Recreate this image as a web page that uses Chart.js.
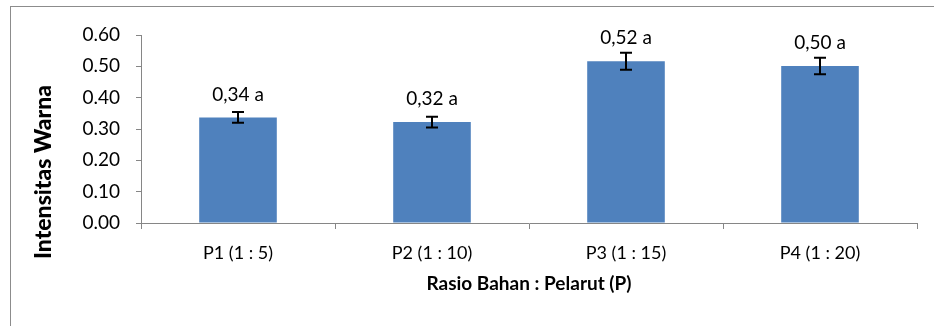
<!DOCTYPE html>
<html>
<head>
<meta charset="utf-8">
<script src="https://cdn.jsdelivr.net/npm/chart.js@4"></script>
<style>
    html, body { margin: 0; padding: 0; background: #fff; }
    #wrap { position: relative; width: 934px; height: 326px; }
    #frame {
        position: absolute; left: 10px; top: 6px; right: -2px; bottom: -2px;
        border-top: 1px solid #8c8c8c; border-left: 1px solid #8c8c8c;
    }
    canvas { position: absolute; left: 0; top: 0; }
</style>
</head>
<body>
<div id="wrap">
    <div id="frame"></div>
    <canvas id="main-chart" width="934" height="326"></canvas>
</div>
<script>
// Chart data
const categories = ["P1 (1 : 5)", "P2 (1 : 10)", "P3 (1 : 15)", "P4 (1 : 20)"];
const values = [0.337, 0.322, 0.516, 0.501];
const errors = [0.017, 0.017, 0.027, 0.026];
const valueLabels = ["0,34 a", "0,32 a", "0,52 a", "0,50 a"];
const yTicks = [0, 0.1, 0.2, 0.3, 0.4, 0.5, 0.6];

const fontFamily = "Lato, 'Open Sans', sans-serif";
const axisColor = "#868686";

// Error bars plus value labels above each bar
const barExtras = {
    id: "barExtras",
    afterDatasetsDraw(chart) {
        const ctx = chart.ctx;
        const meta = chart.getDatasetMeta(0);
        const yScale = chart.scales.y;
        ctx.save();
        ctx.strokeStyle = "#000";
        ctx.lineWidth = 2;
        meta.data.forEach((bar, i) => {
            const x = bar.x;
            const top = yScale.getPixelForValue(values[i] + errors[i]);
            const bottom = yScale.getPixelForValue(values[i] - errors[i]);
            ctx.beginPath();
            ctx.moveTo(x, top);
            ctx.lineTo(x, bottom);
            ctx.moveTo(x - 6, top);
            ctx.lineTo(x + 6, top);
            ctx.moveTo(x - 6, bottom);
            ctx.lineTo(x + 6, bottom);
            ctx.stroke();

            ctx.fillStyle = "#000";
            ctx.font = "19px " + fontFamily;
            ctx.textAlign = "center";
            ctx.textBaseline = "middle";
            ctx.fillText(valueLabels[i], x, bar.y - 23);
        });
        ctx.restore();
    },
};

// Y axis title, centred on the whole chart height like the original
const yTitle = {
    id: "yTitle",
    afterDraw(chart) {
        const ctx = chart.ctx;
        ctx.save();
        ctx.translate(44, 172);
        ctx.rotate(-Math.PI / 2);
        ctx.font = "900 23px " + fontFamily;
        ctx.fillStyle = "#000";
        ctx.textAlign = "center";
        ctx.textBaseline = "middle";
        ctx.fillText("Intensitas Warna", 0, 0);
        ctx.restore();
    },
};

const chartCanvas = document.getElementById("main-chart");

const mainChart = new Chart(chartCanvas, {
    type: "bar",
    data: {
        labels: categories,
        datasets: [
            {
                label: "Intensitas Warna",
                backgroundColor: "#4f81bd",
                borderWidth: 0,
                barPercentage: 0.4,
                categoryPercentage: 1,
                data: values,
            },
        ],
    },
    options: {
        responsive: false,
        animation: false,
        events: [],
        layout: {
            padding: { left: 0, right: 17, top: 35, bottom: 0 },
        },
        plugins: {
            legend: { display: false },
            tooltip: { enabled: false },
        },
        scales: {
            x: {
                grid: {
                    offset: true,
                    drawOnChartArea: false,
                    drawTicks: true,
                    tickLength: 6,
                    tickColor: axisColor,
                },
                border: { color: axisColor, width: 1 },
                ticks: {
                    color: "#000",
                    padding: 13,
                    font: { family: fontFamily, size: 18 },
                },
                title: {
                    display: true,
                    text: "Rasio Bahan : Pelarut (P)",
                    color: "#000",
                    font: { family: fontFamily, size: 19, weight: "bold" },
                    padding: { top: 0, bottom: 31 },
                },
                afterFit(scale) {
                    scale.height = 103;
                },
            },
            y: {
                min: 0,
                max: 0.6,
                afterBuildTicks(scale) {
                    scale.ticks = yTicks.map((v) => ({ value: v }));
                },
                grid: {
                    drawOnChartArea: false,
                    drawTicks: true,
                    tickLength: 5,
                    tickColor: axisColor,
                },
                border: { color: axisColor, width: 1 },
                ticks: {
                    color: "#000",
                    padding: 16,
                    font: { family: fontFamily, size: 19 },
                    callback: (v) => Number(v).toFixed(2),
                },
                afterFit(scale) {
                    scale.width = 141;
                },
            },
        },
    },
    plugins: [barExtras, yTitle],
});

mainChart.update();
</script>
</body>
</html>
